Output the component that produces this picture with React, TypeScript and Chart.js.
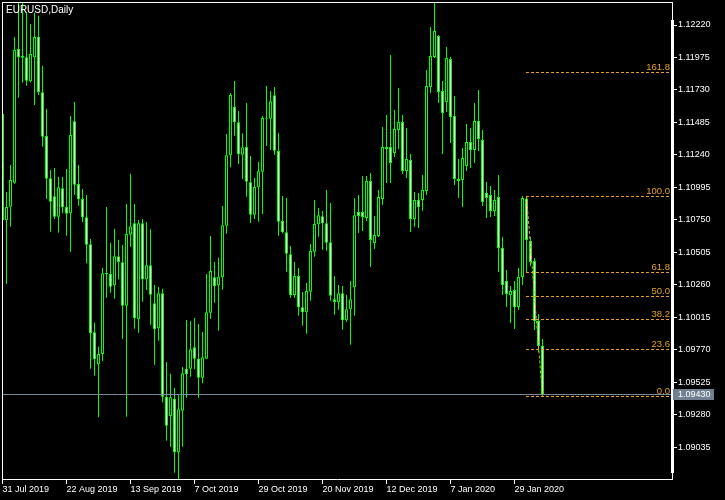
import { useEffect, useRef } from "react";
import { Chart, registerables } from "chart.js";

Chart.register(...registerables);

// Daily EURUSD bars, 31 Jul 2019 (index 0) .. 7 Feb 2020 (index 135)
const opens = [
  1.11548, 1.10746, 1.10849, 1.11030, 1.12039, 1.11986, 1.11976, 1.11795, 1.11976, 1.12130,
  1.11712, 1.11382, 1.11063, 1.10927, 1.10773, 1.10988, 1.10846, 1.10799, 1.11493, 1.11020,
  1.10907, 1.10769, 1.10565, 1.09901, 1.09659, 1.09737, 1.10348, 1.10341, 1.10255, 1.10474,
  1.10429, 1.10102, 1.10637, 1.10723, 1.09999, 1.10723, 1.10301, 1.10407, 1.10120, 1.09931,
  1.10195, 1.09415, 1.09269, 1.09400, 1.08995, 1.09309, 1.09626, 1.09626, 1.09788, 1.09702,
  1.09558, 1.09702, 1.10049, 1.10316, 1.10255, 1.10316, 1.10705, 1.11237, 1.11603, 1.11486,
  1.11241, 1.11299, 1.11033, 1.10788, 1.10995, 1.11113, 1.11518, 1.11513, 1.11689, 1.11269,
  1.10741, 1.10656, 1.10489, 1.10182, 1.10326, 1.10090, 1.10052, 1.10207, 1.10509, 1.10716,
  1.10776, 1.10723, 1.10580, 1.10150, 1.10127, 1.10195, 1.09992, 1.10074, 1.10240, 1.10809,
  1.10809, 1.10763, 1.11043, 1.10575, 1.10628, 1.10907, 1.11299, 1.11299, 1.11254, 1.11428,
  1.11488, 1.11118, 1.11201, 1.10756, 1.10899, 1.10899, 1.10967, 1.11752, 1.11979, 1.12137,
  1.11722, 1.11639, 1.11963, 1.11533, 1.11058, 1.11050, 1.11156, 1.11337, 1.11277, 1.11495,
  1.11352, 1.10952, 1.10937, 1.10816, 1.10922, 1.10537, 1.10288, 1.10182, 1.10220, 1.10092,
  1.10318, 1.10910, 1.10590, 1.10439, 1.09986, 1.09798,
];
const highs = [
  1.11594, 1.10960, 1.11163, 1.12130, 1.12446, 1.12439, 1.12316, 1.12228, 1.12313, 1.12290,
  1.11913, 1.11586, 1.11126, 1.11141, 1.11075, 1.11073, 1.11133, 1.11533, 1.11639, 1.11163,
  1.10982, 1.10937, 1.10605, 1.09973, 1.09792, 1.10388, 1.10846, 1.10577, 1.10683, 1.10600,
  1.10560, 1.10869, 1.11098, 1.10869, 1.10748, 1.10756, 1.10733, 1.10680, 1.10258, 1.10243,
  1.10230, 1.09677, 1.09588, 1.09483, 1.09425, 1.09639, 1.09994, 1.09986, 1.10009, 1.09964,
  1.09903, 1.10341, 1.10628, 1.10431, 1.10464, 1.10854, 1.11397, 1.11707, 1.11797, 1.11571,
  1.11403, 1.11631, 1.11231, 1.11065, 1.11186, 1.11533, 1.11760, 1.11722, 1.11752, 1.11405,
  1.10929, 1.10914, 1.10552, 1.10431, 1.10386, 1.10205, 1.10273, 1.10567, 1.10899, 1.10839,
  1.10816, 1.10975, 1.10877, 1.10326, 1.10258, 1.10250, 1.10185, 1.10288, 1.10914, 1.10937,
  1.11080, 1.11080, 1.11103, 1.10778, 1.10975, 1.11450, 1.11541, 1.11994, 1.11579, 1.11745,
  1.11541, 1.11443, 1.11247, 1.10960, 1.10952, 1.11088, 1.11880, 1.12205, 1.12386, 1.12145,
  1.11797, 1.12054, 1.11979, 1.11684, 1.11209, 1.11292, 1.11473, 1.11443, 1.11631, 1.11729,
  1.11428, 1.11035, 1.11005, 1.10975, 1.11088, 1.10620, 1.10371, 1.10250, 1.10288, 1.10386,
  1.10929, 1.10925, 1.10620, 1.10462, 1.10039, 1.09850,
];
const lows = [
  1.10718, 1.10268, 1.10698, 1.11022, 1.11671, 1.11785, 1.11762, 1.11788, 1.11616, 1.11692,
  1.11302, 1.10907, 1.10660, 1.10756, 1.10653, 1.10799, 1.10630, 1.10509, 1.10939, 1.10856,
  1.10731, 1.10422, 1.09626, 1.09573, 1.09259, 1.09682, 1.10162, 1.10200, 1.10154, 1.10301,
  1.09850, 1.09264, 1.10547, 1.09928, 1.09898, 1.10132, 1.10220, 1.09958, 1.09656, 1.09837,
  1.09373, 1.09083, 1.09037, 1.08841, 1.08790, 1.09037, 1.09407, 1.09566, 1.09622, 1.09407,
  1.09516, 1.09697, 1.10004, 1.10124, 1.09913, 1.10222, 1.10645, 1.11146, 1.11385, 1.11171,
  1.11058, 1.10924, 1.10726, 1.10756, 1.10736, 1.10794, 1.11307, 1.11277, 1.11239, 1.10630,
  1.10648, 1.10358, 1.10162, 1.10162, 1.10026, 1.09951, 1.09890, 1.10139, 1.10471, 1.10622,
  1.10524, 1.10517, 1.10139, 1.10034, 1.10071, 1.09921, 1.09981, 1.09807, 1.10026, 1.10650,
  1.10665, 1.10741, 1.10394, 1.10530, 1.10620, 1.10862, 1.11028, 1.11028, 1.11224, 1.11284,
  1.11096, 1.11065, 1.10658, 1.10695, 1.10688, 1.10816, 1.10937, 1.11707, 1.11971, 1.11631,
  1.11247, 1.11563, 1.11329, 1.11012, 1.10914, 1.10846, 1.11118, 1.11141, 1.11179, 1.11269,
  1.10854, 1.10763, 1.10771, 1.10778, 1.10356, 1.10182, 1.10092, 1.09971, 1.09926, 1.10069,
  1.10258, 1.10348, 1.10401, 1.09918, 1.09752, 1.09418,
];
const closes = [
  1.10748, 1.10846, 1.11050, 1.12031, 1.11976, 1.11973, 1.11800, 1.12001, 1.12130, 1.11712,
  1.11377, 1.11060, 1.10886, 1.10773, 1.10995, 1.10844, 1.10796, 1.11390, 1.11015, 1.10905,
  1.10769, 1.10562, 1.09893, 1.09697, 1.09737, 1.10346, 1.10341, 1.10245, 1.10474, 1.10431,
  1.10102, 1.10643, 1.10701, 1.10007, 1.10723, 1.10301, 1.10407, 1.10185, 1.09924, 1.10195,
  1.09415, 1.09196, 1.09410, 1.08995, 1.09320, 1.09591, 1.09584, 1.09773, 1.09702, 1.09558,
  1.09712, 1.10052, 1.10364, 1.10250, 1.10320, 1.10708, 1.11237, 1.11692, 1.11486, 1.11244,
  1.11297, 1.11037, 1.10788, 1.10998, 1.11116, 1.11518, 1.11513, 1.11644, 1.11271, 1.10736,
  1.10656, 1.10494, 1.10182, 1.10326, 1.10090, 1.10052, 1.10213, 1.10514, 1.10718, 1.10784,
  1.10723, 1.10577, 1.10177, 1.10130, 1.10195, 1.09992, 1.10074, 1.10150, 1.10784, 1.10778,
  1.10771, 1.11043, 1.10598, 1.10635, 1.10922, 1.11299, 1.11284, 1.11179, 1.11435, 1.11488,
  1.11118, 1.11209, 1.10756, 1.10899, 1.10846, 1.10975, 1.11760, 1.11986, 1.12175, 1.11714,
  1.11556, 1.11971, 1.11526, 1.11058, 1.11043, 1.11216, 1.11337, 1.11277, 1.11495, 1.11360,
  1.10884, 1.10914, 1.10816, 1.10899, 1.10537, 1.10258, 1.10190, 1.10213, 1.10092, 1.10318,
  1.10915, 1.10598, 1.10431, 1.09986, 1.09798, 1.09430,
];

const dateTickIndex = [0, 16, 32, 48, 64, 80, 96, 112, 128];
const dateTickLabels = [
  "31 Jul 2019", "22 Aug 2019", "13 Sep 2019", "7 Oct 2019", "29 Oct 2019",
  "20 Nov 2019", "12 Dec 2019", "7 Jan 2020", "29 Jan 2020",
];
const priceTicks = [
  1.12220, 1.11975, 1.11730, 1.11485, 1.11240, 1.10995, 1.10750,
  1.10505, 1.10260, 1.10015, 1.09770, 1.09525, 1.09280, 1.09035,
];
const fibRatios = [0, 23.6, 38.2, 50, 61.8, 100, 161.8];
const fibLabels = ["0.0", "23.6", "38.2", "50.0", "61.8", "100.0", "161.8"];
const fibHigh = 1.10929;
const fibLow = 1.09418;
const fibStartIndex = 131;
const fibEndIndex = 135;
const currentPrice = 1.0943;
const chartTitle = "EURUSD,Daily";

// visible ranges of the two axes
const xAxisMin = -0.125;
const xAxisMax = 167.375;
const yAxisMin = 1.087937;
const yAxisMax = 1.123936;

const FONT = "Liberation Sans";
const GREEN = "#00FF00";
const FIB = "#E6A020";
const PRICE_LINE = "#778899";

const overlay = {
  id: "mtOverlay",
  afterDatasetsDraw(chart: any) {
    const { ctx, chartArea: a, scales } = chart;
    const x = scales.x;
    const y = scales.y;
    ctx.save();
    ctx.beginPath();
    ctx.rect(a.left, a.top, a.right - a.left, a.bottom - a.top);
    ctx.clip();

    // current price line
    const cy = Math.floor(y.getPixelForValue(currentPrice)) + 0.5;
    ctx.strokeStyle = PRICE_LINE;
    ctx.lineWidth = 1;
    ctx.setLineDash([]);
    ctx.beginPath();
    ctx.moveTo(a.left, cy);
    ctx.lineTo(a.right, cy);
    ctx.stroke();

    // fibonacci levels
    const fx0 = x.getPixelForValue(fibStartIndex);
    const fx1 = x.getPixelForValue(fibEndIndex);
    ctx.strokeStyle = FIB;
    ctx.fillStyle = FIB;
    ctx.font = `9.5px "${FONT}"`;
    ctx.textAlign = "right";
    ctx.textBaseline = "alphabetic";
    fibRatios.forEach((r, k) => {
      const price = fibLow + (r / 100) * (fibHigh - fibLow);
      const ly = Math.floor(y.getPixelForValue(price)) + 0.5;
      ctx.setLineDash([3, 2]);
      ctx.beginPath();
      ctx.moveTo(Math.floor(fx0), ly);
      ctx.lineTo(a.right, ly);
      ctx.stroke();
      ctx.setLineDash([]);
      ctx.fillText(fibLabels[k], a.right - 2, ly - 2.5);
    });
    // diagonal trend line of the fibo
    ctx.setLineDash([3, 2]);
    ctx.beginPath();
    ctx.moveTo(fx0, y.getPixelForValue(fibHigh));
    ctx.lineTo(fx1, y.getPixelForValue(fibLow));
    ctx.stroke();
    ctx.setLineDash([]);

    // title
    ctx.fillStyle = "#FFFFFF";
    ctx.textAlign = "left";
    ctx.font = `10px "${FONT}"`;
    ctx.fillText(chartTitle, a.left + 4, a.top + 11);
    ctx.restore();

    // frame
    ctx.save();
    ctx.fillStyle = "#FFFFFF";
    ctx.fillRect(a.left, a.top, a.right - a.left + 1, 1);
    ctx.fillRect(a.left, a.top, 1, a.bottom - a.top);
    ctx.fillRect(a.right - 1, a.top + 18, 3, a.bottom - a.top - 24);

    // current price label on the axis
    ctx.fillStyle = "#708090";
    ctx.fillRect(a.right + 1, cy - 5.5, 41, 11);
    ctx.fillStyle = "#FFFFFF";
    ctx.font = `9px "${FONT}"`;
    ctx.textAlign = "left";
    ctx.textBaseline = "middle";
    ctx.fillText(currentPrice.toFixed(5), a.right + 6, cy + 0.5);
    ctx.restore();
  },
};

export default function App() {
  const ref = useRef<HTMLCanvasElement | null>(null);

  useEffect(() => {
    const canvas = ref.current;
    if (!canvas) return;
    const idx = opens.map((_, i) => i);
    const bodies = idx.map((i) => ({
      x: i,
      y: [Math.min(opens[i], closes[i]), Math.max(opens[i], closes[i])],
    }));
    const wicks = idx.map((i) => ({ x: i, y: [lows[i], highs[i]] }));
    const bodyFill = idx.map((i) => (closes[i] > opens[i] ? "#000000" : "#FFFFFF"));

    const chart = new Chart(canvas, {
      type: "bar",
      data: {
        datasets: [
          {
            data: bodies as any,
            backgroundColor: bodyFill,
            borderColor: GREEN,
            borderWidth: 1,
            borderSkipped: false,
            barThickness: 3,
            grouped: false,
            inflateAmount: 0,
            clip: 0,
          } as any,
          {
            data: wicks as any,
            backgroundColor: GREEN,
            borderWidth: 0,
            barThickness: 1,
            grouped: false,
            inflateAmount: 0,
            clip: 0,
          } as any,
        ],
      },
      options: {
        animation: false,
        responsive: false,
        devicePixelRatio: 1,
        events: [],
        layout: { padding: { left: 2, top: 2, right: 0, bottom: 0 } },
        plugins: {
          legend: { display: false },
          tooltip: { enabled: false },
          title: { display: false },
        },
        scales: {
          x: {
            type: "linear",
            min: xAxisMin,
            max: xAxisMax,
            offset: false,
            grid: {
              display: true,
              drawOnChartArea: false,
              drawTicks: true,
              tickLength: 5,
              color: "#FFFFFF",
              offset: false,
            },
            border: { display: true, color: "#FFFFFF", width: 1 },
            ticks: {
              color: "#FFFFFF",
              font: { family: FONT, size: 9 },
              align: "start",
              padding: 0,
              maxRotation: 0,
              minRotation: 0,
              autoSkip: false,
              callback: (v: any) => {
                const k = dateTickIndex.indexOf(Number(v));
                return k >= 0 ? dateTickLabels[k] : "";
              },
            },
            afterBuildTicks: (s: any) => {
              s.ticks = dateTickIndex.map((v) => ({ value: v }));
            },
            afterFit: (s: any) => {
              s.height = 21;
              s.paddingLeft = 0;
              s.paddingRight = 0;
            },
          } as any,
          y: {
            type: "linear",
            position: "right",
            min: yAxisMin,
            max: yAxisMax,
            beginAtZero: false,
            grid: {
              display: true,
              drawOnChartArea: false,
              drawTicks: true,
              tickLength: 5,
              color: "#FFFFFF",
            },
            border: { display: true, color: "#FFFFFF", width: 1 },
            ticks: {
              color: "#FFFFFF",
              font: { family: FONT, size: 9 },
              padding: 1,
              autoSkip: false,
              callback: (v: any) => Number(v).toFixed(5),
            },
            afterBuildTicks: (s: any) => {
              s.ticks = priceTicks.map((v) => ({ value: v }));
            },
            afterFit: (s: any) => {
              s.width = 53;
              s.paddingTop = 0;
              s.paddingBottom = 0;
            },
          } as any,
        },
      },
      plugins: [overlay],
    });
    return () => chart.destroy();
  }, []);

  return (
    <div
      style={{
        position: "fixed",
        left: 0,
        top: 0,
        width: 725,
        height: 500,
        background: "#000000",
      }}
    >
      <canvas
        ref={ref}
        width={725}
        height={500}
        style={{ display: "block", width: 725, height: 500, background: "#000000" }}
      />
    </div>
  );
}
